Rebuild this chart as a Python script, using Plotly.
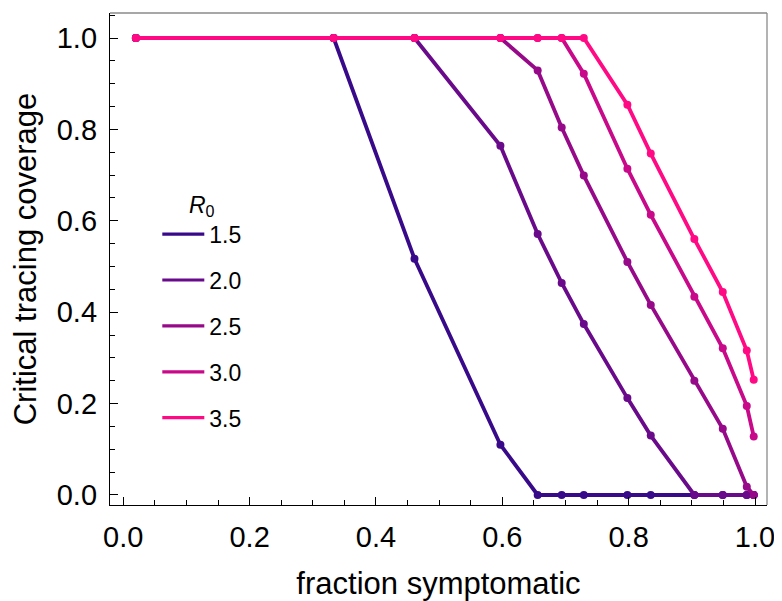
import plotly.graph_objects as go

# fraction symptomatic (x) shared by all curves
frac_sym = [0.02, 0.333, 0.461, 0.597, 0.656, 0.694, 0.729, 0.798, 0.835, 0.904, 0.949, 0.987, 0.998]

# critical tracing coverage for each R0
cov_r15 = [1.0, 1.0, 0.517, 0.110, 0.0, 0.0, 0.0, 0.0, 0.0, 0.0, 0.0, 0.0, 0.0]
cov_r20 = [1.0, 1.0, 1.0, 0.764, 0.571, 0.464, 0.374, 0.212, 0.130, 0.0, 0.0, 0.0, 0.0]
cov_r25 = [1.0, 1.0, 1.0, 1.0, 0.929, 0.804, 0.699, 0.510, 0.416, 0.250, 0.145, 0.018, 0.0]
cov_r30 = [1.0, 1.0, 1.0, 1.0, 1.0, 1.0, 0.922, 0.714, 0.613, 0.434, 0.321, 0.195, 0.128]
cov_r35 = [1.0, 1.0, 1.0, 1.0, 1.0, 1.0, 1.0, 0.854, 0.747, 0.560, 0.444, 0.316, 0.252]

r0_labels = ["1.5", "2.0", "2.5", "3.0", "3.5"]
series = [cov_r15, cov_r20, cov_r25, cov_r30, cov_r35]
colors = ["#380a8a", "#690a8b", "#960a89", "#c8098a", "#ff0a84"]

FONT = "Liberation Sans, Arial, Helvetica, sans-serif"

fig = go.Figure()
for lab, ys, col in zip(r0_labels, series, colors):
    fig.add_trace(go.Scatter(
        x=frac_sym, y=ys, mode="lines+markers", name=lab,
        legendgroup=lab, showlegend=False,
        line=dict(color=col, width=3.8),
        marker=dict(color=col, size=8),
    ))
# legend entries (line only)
for lab, col in zip(r0_labels, colors):
    fig.add_trace(go.Scatter(
        x=[None], y=[None], mode="lines", name=lab,
        legendgroup=lab, showlegend=True,
        line=dict(color=col, width=3.2),
    ))

fig.update_layout(
    width=774, height=593,
    margin=dict(l=102, r=15, t=5, b=96),
    paper_bgcolor="white", plot_bgcolor="white",
    font=dict(family=FONT, color="black"),
    showlegend=True,
    legend=dict(
        x=0.072, y=0.655, xanchor="left", yanchor="top",
        bgcolor="rgba(0,0,0,0)", borderwidth=0,
        font=dict(size=23, family=FONT, color="black"),
        title=dict(text="<i>R</i><sub>0</sub>", side="top center",
                   font=dict(size=23, family=FONT, color="black")),
        tracegroupgap=13, itemwidth=42,
    ),
    xaxis=dict(
        range=[-0.021, 1.019], tickvals=[0, 0.2, 0.4, 0.6, 0.8, 1.0],
        ticktext=["0.0", "0.2", "0.4", "0.6", "0.8", "1.0"],
        showline=True, linecolor="black", linewidth=1.3, mirror=False,
        ticks="inside", ticklen=8, tickwidth=1.2, tickcolor="black",
        minor=dict(dtick=0.05, ticks="inside", ticklen=5, tickwidth=1, tickcolor="black", showgrid=False),
        showgrid=False, zeroline=False,
        tickfont=dict(size=29, family=FONT, color="black"),
        ticklabelstandoff=6, ticklabeloverflow="allow",
        title=dict(text="fraction symptomatic", font=dict(size=31, family=FONT, color="black"), standoff=20),
        automargin=False,
    ),
    yaxis=dict(
        range=[-0.0219, 1.0547], tickvals=[0, 0.2, 0.4, 0.6, 0.8, 1.0],
        ticktext=["0.0", "0.2", "0.4", "0.6", "0.8", "1.0"],
        showline=True, linecolor="black", linewidth=1.3, mirror=False,
        ticks="inside", ticklen=8, tickwidth=1.2, tickcolor="black",
        minor=dict(dtick=0.05, ticks="inside", ticklen=5, tickwidth=1, tickcolor="black", showgrid=False),
        showgrid=False, zeroline=False,
        tickfont=dict(size=29, family=FONT, color="black"),
        ticklabelstandoff=6,
        title=dict(text="Critical tracing coverage", font=dict(size=31, family=FONT, color="black"), standoff=12),
        automargin=False,
    ),
)

# gray top and right frame edges
fig.add_shape(type="line", xref="paper", yref="paper", x0=0, x1=1, y0=1, y1=1,
              line=dict(color="#8a8a8a", width=1.3))
fig.add_shape(type="line", xref="paper", yref="paper", x0=1, x1=1, y0=0, y1=1,
              line=dict(color="#8a8a8a", width=1.3))

fig.write_html("out.html")
